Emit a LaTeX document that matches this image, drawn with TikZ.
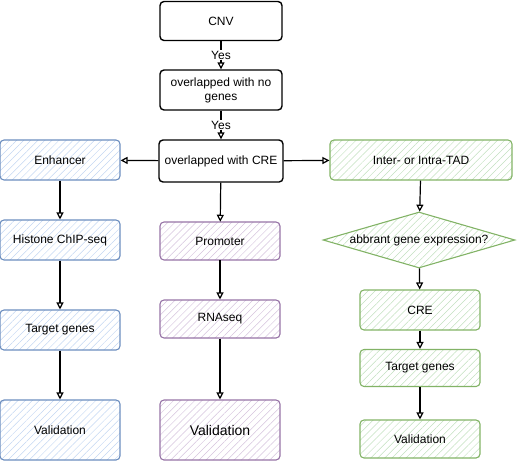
\documentclass[tikz,border=0pt]{standalone}
\usepackage{fontspec}
\setmainfont{Liberation Sans}
\usetikzlibrary{shapes.geometric,arrows.meta,patterns.meta}

\definecolor{bluedraw}{HTML}{6C8EBF}
\definecolor{bluefill}{HTML}{C3D6F2}
\definecolor{purpledraw}{HTML}{9673A6}
\definecolor{purplefill}{HTML}{D5C3DD}
\definecolor{greendraw}{HTML}{82B366}
\definecolor{greenfill}{HTML}{C2E0BF}

\tikzset{
	box/.style={draw, rounded corners=4pt, align=center, minimum width=120pt, minimum height=40pt, inner sep=2pt, font=\fontsize{12}{14}\selectfont},
	blackbox/.style={box, line width=1.4pt},
	bluebox/.style={box, draw=bluedraw, line width=1.1pt, pattern={Lines[angle=45,distance=5pt,line width=0.5pt]}, pattern color=bluefill},
	purplebox/.style={box, draw=purpledraw, line width=1.1pt, pattern={Lines[angle=45,distance=5pt,line width=0.5pt]}, pattern color=purplefill},
	greenbox/.style={box, draw=greendraw, line width=1.1pt, pattern={Lines[angle=45,distance=5pt,line width=0.5pt]}, pattern color=greenfill},
	yes/.style={fill=white, inner sep=1pt, font=\fontsize{12}{14}\selectfont},
}

\begin{document}
\begin{tikzpicture}[x=1pt, y=-1pt, >={Triangle[open,length=7pt,width=7pt]}, line width=1.2pt]
	\useasboundingbox (0,0) rectangle (521,461);

	% middle column
	\node[blackbox, minimum width=122pt, minimum height=39pt] (cnv) at (221,21) {CNV};
	\node[blackbox, minimum width=122pt] (nogenes) at (221,90) {overlapped with no\\genes};
	\node[blackbox, minimum width=124pt, minimum height=42pt] (cre) at (221,161) {overlapped with CRE};
	\node[purplebox, minimum height=38pt] (prom) at (220,241) {Promoter};
	\node[purplebox, minimum height=38pt] (rnaseq) at (220,319) {RNAseq};
	\node[purplebox, minimum height=60pt, font=\fontsize{14}{16}\selectfont] (valM) at (220,430) {Validation};

	% left column
	\node[bluebox] (enh) at (60,160) {Enhancer};
	\node[bluebox] (histone) at (60,240) {Histone ChIP-seq};
	\node[bluebox] (tgtL) at (60,330) {Target genes};
	\node[bluebox, minimum height=60pt] (valL) at (60,430) {Validation};

	% right column
	\node[greenbox, minimum width=182pt] (tad) at (421,160) {Inter- or Intra-TAD};
	\node[diamond, aspect=3.4, inner sep=0pt, minimum width=192pt, minimum height=56pt, draw=greendraw, line width=1.1pt, pattern={Lines[angle=45,distance=5pt,line width=0.5pt]}, pattern color=greenfill, font=\fontsize{12}{14}\selectfont] (abb) at (419,240) {abbrant gene expression?};
	\node[greenbox] (creR) at (420,310) {CRE};
	\node[greenbox, minimum height=37pt] (tgtR) at (420,368) {Target genes};
	\node[greenbox, minimum height=38pt] (valR) at (420,439) {Validation};

	\path [->] (cnv) edge node[yes] {Yes} (nogenes);
	\path [->] (nogenes) edge node[yes] {Yes} (cre);
	\path [->] (cre) edge node {} (enh);
	\path [->] (cre) edge node {} (tad);
	\path [->] (cre) edge node {} (prom);

	\path [->] (enh) edge node {} (histone);
	\path [->] (histone) edge node {} (tgtL);
	\path [->] (tgtL) edge node {} (valL);

	\path [->] (prom) edge node {} (rnaseq);
	\path [->] (rnaseq) edge node {} (valM);

	\path [->] (tad) edge node {} (abb);
	\path [->] (abb) edge node {} (creR);
	\path [->] (creR) edge node {} (tgtR);
	\path [->] (tgtR) edge node {} (valR);
\end{tikzpicture}
\end{document}
